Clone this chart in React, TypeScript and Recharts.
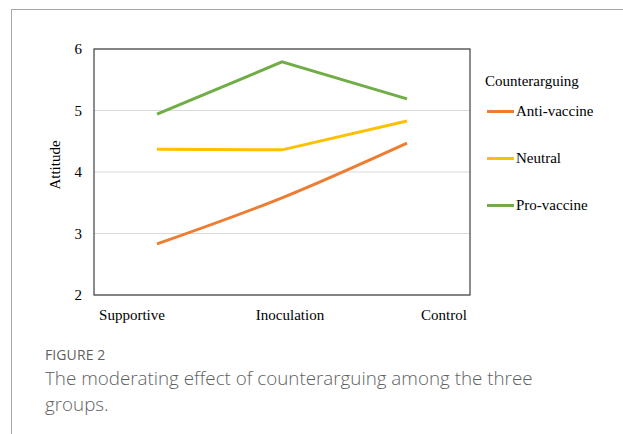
import { CartesianGrid, Line, LineChart, XAxis, YAxis, usePlotArea } from "recharts";

const categories = ["Supportive", "Inoculation", "Control"];
const antiVaccine = [2.83, 3.58, 4.47];
const neutral = [4.37, 4.36, 4.83];
const proVaccine = [4.94, 5.79, 5.19];
const yTicks = [2, 3, 4, 5, 6];

const series = [
	{ key: "anti", name: "Anti-vaccine", color: "#ED7D31", values: antiVaccine, type: "monotone" as const },
	{ key: "neutral", name: "Neutral", color: "#FFC000", values: neutral, type: "linear" as const },
	{ key: "pro", name: "Pro-vaccine", color: "#70AD47", values: proVaccine, type: "linear" as const },
];

const data = categories.map((c, i) => ({
	group: c,
	anti: antiVaccine[i],
	neutral: neutral[i],
	pro: proVaccine[i],
}));

// label shifts so the category text sits like the original export
const tickShift = [-25, 8, 37];

const serif = "'Liberation Serif', 'Times New Roman', serif";

function CategoryTick(props: any) {
	const { x, y, payload, index } = props;
	return (
		<text
			x={x + (tickShift[index] ?? 0)}
			y={y}
			dy="0.71em"
			textAnchor="middle"
			fontFamily={serif}
			fontSize={15}
			fill="#000"
		>
			{payload.value}
		</text>
	);
}

function AxisTitle(props: any) {
	const { viewBox } = props;
	if (!viewBox) return null;
	const cx = viewBox.x + 1;
	const cy = viewBox.y + viewBox.height / 2 - 7;
	return (
		<text
			x={cx}
			y={cy}
			transform={`rotate(-90 ${cx} ${cy})`}
			textAnchor="middle"
			dominantBaseline="central"
			fontFamily={serif}
			fontSize={15}
			fill="#000"
		>
			Attitude
		</text>
	);
}

// plot area border (Excel draws a box round the plot)
function PlotFrame() {
	const area = usePlotArea();
	if (!area) return null;
	return (
		<rect
			x={area.x}
			y={area.y}
			width={area.width}
			height={area.height}
			fill="none"
			stroke="#404040"
			strokeWidth={1.2}
		/>
	);
}

function LegendBox() {
	return (
		<div style={{ fontFamily: serif, fontSize: 15, color: "#000" }}>
			<div style={{ marginBottom: 11, marginLeft: -2 }}>Counterarguing</div>
			{series.map((s) => (
				<div
					key={s.key}
					style={{ display: "flex", alignItems: "center", height: 20, marginBottom: 27 }}
				>
					<span
						style={{
							display: "inline-block",
							width: 27,
							height: 3,
							background: s.color,
							marginRight: 2,
						}}
					/>
					{s.name}
				</div>
			))}
		</div>
	);
}

export default function App() {
	return (
		<div
			style={{
				position: "absolute",
				left: 0,
				top: 0,
				width: 623,
				height: 434,
				background: "#fff",
				overflow: "hidden",
			}}
		>
			<div
				style={{
					position: "absolute",
					left: 11,
					top: 9,
					right: -2,
					bottom: -2,
					borderTop: "1.5px solid #a8a8a8",
					borderLeft: "1.5px solid #a8a8a8",
				}}
			/>
			<div style={{ position: "absolute", left: 0, top: 0 }}>
				<LineChart
					width={623}
					height={330}
					data={data}
					margin={{ top: 49, right: 153, left: 54, bottom: 5 }}
					accessibilityLayer={false}
				>
					<CartesianGrid vertical={false} stroke="#d9d9d9" strokeWidth={1} />
					<XAxis
						dataKey="group"
						height={30}
						padding={{ left: 63, right: 63 }}
						tick={<CategoryTick />}
						tickLine={false}
						tickSize={6}
						tickMargin={8}
						axisLine={false}
						interval={0}
					/>
					<YAxis
						domain={[2, 6]}
						ticks={yTicks}
						width={40}
						tickLine={false}
						tickMargin={6}
						tick={{ fontFamily: serif, fontSize: 15, fill: "#000" }}
						axisLine={false}
						label={<AxisTitle />}
					/>
					{series.map((s) => (
						<Line
							key={s.key}
							type={s.type}
							dataKey={s.key}
							name={s.name}
							stroke={s.color}
							strokeWidth={3}
							dot={false}
							activeDot={false}
							isAnimationActive={false}
						/>
					))}
					<PlotFrame />
				</LineChart>
			</div>
			<div style={{ position: "absolute", left: 487, top: 73 }}>
				<LegendBox />
			</div>
			<div
				style={{
					position: "absolute",
					left: 45,
					top: 345,
					fontFamily: "'Open Sans', sans-serif",
					color: "#5f5f5f",
				}}
			>
				<div style={{ fontSize: 14, fontWeight: 500, letterSpacing: 0.1 }}>FIGURE 2</div>
				<div style={{ fontSize: 18.8, fontWeight: 300, lineHeight: "26px", marginTop: 1, width: 540 }}>
					The moderating effect of counterarguing among the three groups.
				</div>
			</div>
		</div>
	);
}
